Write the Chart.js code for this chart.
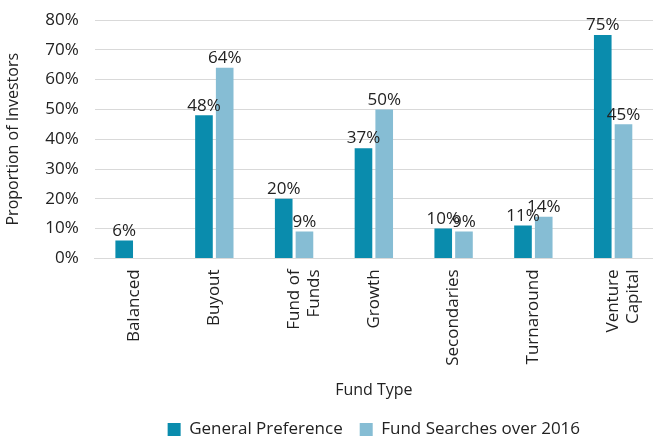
<!DOCTYPE html>
<html>
<head>
<meta charset="utf-8">
<script src="https://cdn.jsdelivr.net/npm/chart.js@4"></script>
<style>
  body { margin: 0; background: #fff; }
  #wrap { width: 653px; height: 439px; position: relative; }
</style>
</head>
<body>
<div id="wrap"><canvas id="chart1"></canvas></div>
<script>
const fundTypes = ['Balanced', 'Buyout', ['Fund of', 'Funds'], 'Growth', 'Secondaries', 'Turnaround', ['Venture', 'Capital']]
const generalPreference = [6, 48, 20, 37, 10, 11, 75]
const fundSearches2016 = [null, 64, 9, 50, 9, 14, 45]
const yTicks = [0, 10, 20, 30, 40, 50, 60, 70, 80]

const fontFamily = '"Open Sans", "Noto Sans", sans-serif'

// draws the % labels above each bar
const barLabels = {
    id: 'barLabels',
    afterDatasetsDraw(chart) {
        const ctx = chart.ctx
        ctx.save()
        ctx.font = '17px ' + fontFamily
        ctx.fillStyle = '#222'
        ctx.textAlign = 'center'
        ctx.textBaseline = 'bottom'
        chart.data.datasets.forEach((ds, i) => {
            chart.getDatasetMeta(i).data.forEach((bar, j) => {
                const v = ds.data[j]
                if (v === null) return
                ctx.fillText(v + '%', bar.x, bar.y - 1)
            })
        })
        ctx.restore()
    }
}

const ctx = document.querySelector('#chart1').getContext('2d')
const chart1 = new Chart(ctx, {
    type: 'bar',
    data: {
        labels: fundTypes,
        datasets: [{
            label: 'General Preference',
            data: generalPreference,
            backgroundColor: '#0a8cad',
            borderWidth: 0
        }, {
            label: 'Fund Searches over 2016',
            data: fundSearches2016,
            backgroundColor: '#86bdd4',
            borderWidth: 0
        }]
    },
    options: {
        responsive: true,
        maintainAspectRatio: false,
        animation: false,
        datasets: {
            bar: {
                categoryPercentage: 0.52,
                barPercentage: 0.85
            }
        },
        layout: {
            padding: { top: 20, right: 0, left: 4, bottom: -9 }
        },
        scales: {
            x: {
                afterFit: scale => { scale.paddingRight = 0 },
                grid: { display: false, drawTicks: false },
                border: { display: true, color: '#d9d9d9' },
                ticks: {
                    minRotation: 90,
                    maxRotation: 90,
                    autoSkip: false,
                    padding: 11,
                    color: '#222',
                    font: { family: fontFamily, size: 17 }
                },
                title: {
                    display: true,
                    text: 'Fund Type',
                    color: '#222',
                    font: { family: fontFamily, size: 16 },
                    padding: { top: 4, bottom: 4 }
                }
            },
            y: {
                min: 0,
                max: 80,
                afterBuildTicks: axis => {
                    axis.ticks = yTicks.map(v => ({ value: v }))
                },
                afterFit: scale => { scale.paddingTop = 0 },
                grid: { color: '#d9d9d9', drawTicks: false },
                border: { display: false },
                ticks: {
                    padding: 16,
                    color: '#222',
                    font: { family: fontFamily, size: 17 },
                    callback: v => v + '%'
                },
                title: {
                    display: true,
                    text: 'Proportion of Investors',
                    color: '#222',
                    font: { family: fontFamily, size: 16 },
                    padding: { top: 0, bottom: 6 }
                }
            }
        },
        plugins: {
            legend: {
                display: true,
                position: 'bottom',
                fullSize: false,
                labels: {
                    boxWidth: 13,
                    boxHeight: 13,
                    padding: 17,
                    color: '#222',
                    font: { family: fontFamily, size: 17 }
                }
            },
            tooltip: { enabled: false }
        }
    },
    plugins: [barLabels]
})
</script>
</body>
</html>
